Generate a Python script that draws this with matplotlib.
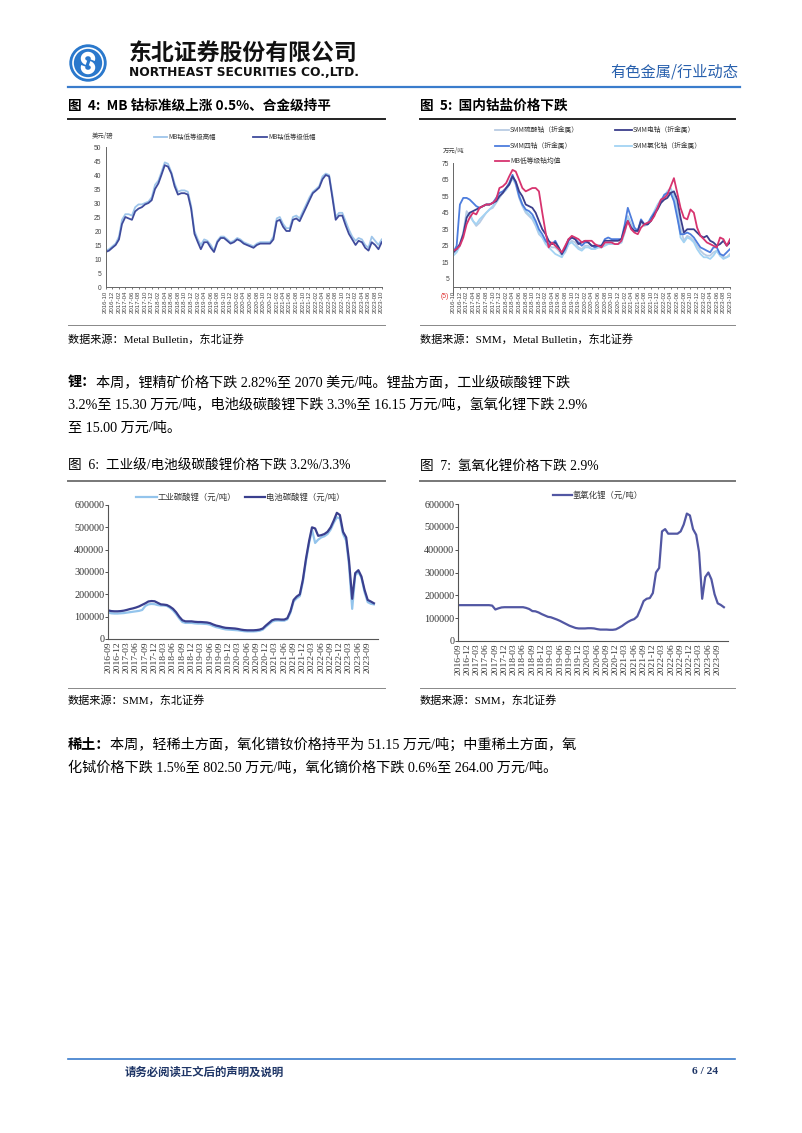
import numpy as np
import pandas as pd
import matplotlib
matplotlib.use("Agg")
import matplotlib.pyplot as plt
import matplotlib.dates as mdates
from matplotlib.lines import Line2D
from matplotlib.patches import Circle, Arc

W, H = 802, 1133
CJK = ["Noto Sans CJK SC", "DejaVu Sans"]
SERIF = ["Liberation Serif", "Noto Sans CJK SC"]
SANS = ["Liberation Sans", "Noto Sans CJK SC"]
plt.rcParams["font.family"] = CJK

# ---------------- data ----------------
# fig 4: MB cobalt low grade, USD/lb, monthly 2016-10 .. 2023-10
co_months = pd.date_range("2016-10-01", periods=85, freq="MS")
mb_high = [13, 13.5, 14.5, 15.5, 18, 24, 26, 26, 25.5, 28.5, 29.5, 29.5, 30, 30.5, 32,
           36.5, 38, 41, 44.5, 44, 41, 37, 34, 34.5, 34.5, 34, 29, 20, 17, 15, 17,
           16.5, 15, 13, 16.5, 18, 18, 17, 16, 16.5, 17.5, 17, 16, 15.5, 15, 14.5,
           15.5, 16, 16, 16, 16, 18, 24.5, 25, 22.5, 21, 21, 25, 25.5, 24.5, 27, 29.5,
           32, 34, 35, 36, 39.5, 40.5, 40, 33, 25, 26.5, 26.5, 23.5, 20.5, 18, 16.5,
           17.5, 17, 15, 14, 18, 16.5, 15, 17]
mb_low = [12.5, 13, 14, 15, 17, 22.5, 25, 24.5, 24, 27, 28, 28.5, 29.5, 30, 31,
          35, 37, 40, 43.5, 43, 40.5, 36, 33, 33.5, 33.5, 33, 28, 19, 16, 13.5, 16,
          16, 14, 12.5, 16, 17.5, 17.5, 16.5, 15.5, 16, 17, 16.5, 15.5, 15, 14.5, 14,
          15, 15.5, 15.5, 15.5, 15.5, 17, 23.5, 24, 21.5, 20, 20, 24, 24.5, 23.5, 26,
          28.5, 31, 33.5, 34.5, 35.5, 38.5, 40, 39.5, 32, 24, 25.5, 25.5, 22, 19, 17,
          15, 16.5, 16, 14, 13, 16, 15, 13.5, 16]

# fig 5: domestic cobalt salts, 10k CNY/t, monthly 2016-10 .. 2023-10
co_sulfate = [20, 22, 26, 33, 46, 43, 40, 37, 39, 42, 45, 47, 48, 51, 54, 57, 59, 62,
              66, 62, 54, 49, 45, 43, 41, 37, 32, 30, 27, 25, 24, 24, 22, 19, 21, 26,
              28, 27, 24, 23, 25, 25, 23, 23, 24, 24, 26, 26, 26, 26, 26, 27, 34, 43,
              38, 35, 34, 39, 37, 38, 41, 44, 48, 51, 54, 55, 58, 56, 48, 36, 28, 31,
              30, 28, 25, 22, 20, 19, 19, 21, 22, 19, 18, 18, 20]
co_metal = [21, 23, 26, 32, 42, 45, 46, 47, 48, 49, 50, 50, 51, 52, 55, 57, 60, 62,
            67, 64, 58, 55, 50, 49, 48, 45, 40, 35, 32, 28, 26, 27, 24, 20, 24, 29,
            30, 29, 26, 27, 28, 27, 25, 25, 25, 25, 28, 28, 28, 28, 28, 29, 36, 40,
            36, 34, 34, 40, 38, 38, 40, 44, 47, 51, 53, 54, 57, 58, 53, 42, 33, 35,
            35, 35, 33, 31, 30, 31, 28, 27, 25, 26, 28, 25, 27]
co_oxide = [21, 25, 50, 54, 54, 53, 51, 49, 48, 49, 50, 50, 51, 54, 57, 58, 60, 63,
            68, 63, 55, 50, 47, 46, 44, 40, 35, 32, 28, 26, 26, 28, 24, 20, 23, 28,
            30, 29, 27, 25, 27, 27, 25, 24, 25, 25, 29, 30, 29, 29, 29, 29, 38, 48,
            42, 36, 34, 41, 38, 38, 42, 45, 48, 52, 56, 57, 57, 52, 42, 32, 32, 33,
            32, 30, 27, 24, 23, 22, 21, 24, 24, 20, 19, 21, 23]
co_chloride = [19, 21, 25, 32, 43, 45, 40, 38, 41, 43, 45, 47, 49, 52, 55, 57, 59, 62,
               66, 63, 56, 50, 46, 44, 42, 38, 33, 30, 26, 24, 22, 20, 19, 18, 22, 26,
               27, 25, 23, 22, 24, 24, 23, 23, 24, 24, 25, 26, 26, 26, 26, 27, 33, 42,
               37, 34, 34, 40, 38, 39, 42, 46, 50, 53, 55, 58, 60, 55, 45, 30, 27, 30,
               29, 27, 23, 20, 18, 18, 17, 19, 22, 19, 17, 18, 19]
mb_mean = [22, 23, 25, 30, 38, 42, 45, 44, 48, 49, 50, 50, 51, 53, 60, 61, 63, 67,
           71, 70, 65, 60, 58, 59, 60, 60, 58, 45, 33, 24, 27, 25, 23, 21, 25, 29,
           31, 30, 29, 27, 28, 28, 28, 26, 25, 24, 27, 27, 27, 26, 26, 28, 34, 40,
           35, 33, 32, 36, 38, 39, 40, 43, 48, 53, 54, 56, 61, 66, 57, 48, 42, 41,
           47, 45, 36, 31, 29, 27, 26, 25, 24, 30, 29, 25, 29]

# fig 6/7: lithium salts, CNY/t, monthly 2016-09 .. 2023-11
li_months = pd.date_range("2016-09-01", periods=87, freq="MS")
li2co3_ind = [118000, 115000, 114000, 114000, 115000, 116000, 118000, 120000, 122000,
              124000, 126000, 130000, 148000, 155000, 157000, 156000, 152000, 150000,
              150000, 148000, 140000, 128000, 112000, 92000, 76000, 72000, 72000,
              72000, 70000, 69000, 69000, 68000, 67000, 64000, 58000, 53000, 50000,
              46000, 43000, 42000, 41000, 40000, 39000, 37000, 35000, 34000, 34000,
              34000, 35000, 37000, 42000, 55000, 66000, 78000, 82000, 83000, 82000,
              82000, 88000, 118000, 168000, 182000, 192000, 255000, 350000, 430000,
              490000, 430000, 445000, 455000, 460000, 470000, 490000, 520000, 545000,
              540000, 470000, 440000, 330000, 135000, 285000, 300000, 275000, 210000,
              165000, 158000, 155000]
li2co3_bat = [128000, 125000, 124000, 124000, 125000, 127000, 130000, 134000, 137000,
              141000, 146000, 153000, 160000, 168000, 170000, 169000, 162000, 155000,
              154000, 152000, 145000, 135000, 120000, 100000, 84000, 79000, 79000,
              79000, 77000, 76000, 76000, 75000, 74000, 71000, 65000, 60000, 57000,
              53000, 50000, 49000, 48000, 47000, 45000, 42000, 40000, 39000, 39000,
              39000, 40000, 42000, 47000, 60000, 72000, 84000, 88000, 88000, 87000,
              87000, 93000, 125000, 175000, 190000, 200000, 265000, 360000, 440000,
              500000, 495000, 462000, 465000, 470000, 480000, 500000, 530000, 565000,
              555000, 480000, 455000, 350000, 180000, 295000, 308000, 280000, 220000,
              175000, 168000, 160000]
lioh = [157000, 157000, 157000, 157000, 157000, 157000, 157000, 157000, 157000,
        157000, 157000, 155000, 138000, 143000, 147000, 148000, 148000, 148000,
        148000, 148000, 148000, 148000, 145000, 140000, 131000, 130000, 125000,
        118000, 112000, 106000, 104000, 99000, 94000, 88000, 81000, 74000, 67000,
        62000, 57000, 55000, 55000, 55000, 56000, 56000, 55000, 52000, 50000, 50000,
        50000, 49000, 49000, 51000, 58000, 66000, 75000, 84000, 91000, 96000, 108000,
        140000, 175000, 185000, 188000, 210000, 300000, 320000, 480000, 490000,
        470000, 470000, 470000, 470000, 480000, 510000, 558000, 550000, 490000,
        465000, 390000, 185000, 280000, 300000, 270000, 205000, 165000, 158000, 148000]

# ---------------- helpers ----------------
fig = plt.figure(figsize=(W / 100, H / 100), dpi=100)
fig.patch.set_facecolor("white")


def X(x):
    return x / W


def Y(y):
    return 1 - y / H


def rect(x0, x1, ytop, ybot):
    return [X(x0), Y(ybot), (x1 - x0) / W, (ybot - ytop) / H]


def txt(x, y, s, size, **kw):
    kw.setdefault("va", "center")
    return fig.text(X(x), Y(y), s, fontsize=size, **kw)


def hline(x0, x1, y, color, lw):
    fig.add_artist(Line2D([X(x0), X(x1)], [Y(y), Y(y)], color=color, lw=lw))


def leg_item(x0, x1, y, color, label, lw, size):
    fig.add_artist(Line2D([X(x0), X(x1)], [Y(y), Y(y)], color=color, lw=lw))
    txt(x1 + 1, y, label, size, color="#333333")


# ---------------- header ----------------
lg = fig.add_axes(rect(68, 108, 43, 83))
lg.set_xlim(-20, 20); lg.set_ylim(-20, 20); lg.set_aspect("equal"); lg.axis("off")
lg.add_patch(Circle((0, 0), 18, color="#2a78cc"))
lg.add_patch(Circle((0, 0), 15, fill=False, ec="white", lw=1.2))
lg.add_patch(Arc((0, 4.5), 10, 9, theta1=-20, theta2=250, color="white", lw=3.2))
lg.add_patch(Arc((0, -4.5), 10, 9, theta1=160, theta2=430, color="white", lw=3.2))

txt(129, 53, "东北证券股份有限公司", 16.5, weight="bold", color="#111111")
txt(129, 72, "NORTHEAST SECURITIES CO.,LTD.", 8.8, weight="bold",
    family=["DejaVu Sans"], color="#111111")
txt(738, 72, "有色金属/行业动态", 11, ha="right", color="#2860ad")
hline(68, 740, 87, "#3a7ccc", 1.6)

# ---------------- titles / sources ----------------
txt(68, 106, "图  4:  MB 钴标准级上涨 0.5%、合金级持平", 9.8, weight="bold")
txt(420, 106, "图  5:  国内钴盐价格下跌", 9.8, weight="bold")
hline(68, 385, 119, "#222222", 1.4)
hline(420, 735, 119, "#222222", 1.4)
hline(68, 385, 325, "#888888", 0.7)
hline(420, 735, 325, "#888888", 0.7)
txt(68, 339, "数据来源：Metal Bulletin，东北证券", 8, family=SERIF)
txt(420, 339, "数据来源：SMM，Metal Bulletin，东北证券", 8, family=SERIF)

txt(68, 382, "锂：", 10.2, weight="bold")
txt(96, 382, "本周，锂精矿价格下跌 2.82%至 2070 美元/吨。锂盐方面，工业级碳酸锂下跌",
    10.2, family=SERIF)
txt(68, 405, "3.2%至 15.30 万元/吨，电池级碳酸锂下跌 3.3%至 16.15 万元/吨，氢氧化锂下跌 2.9%",
    10.2, family=SERIF)
txt(68, 428, "至 15.00 万元/吨。", 10.2, family=SERIF)

txt(68, 466, "图  6:  工业级/电池级碳酸锂价格下跌 3.2%/3.3%", 9.8, family=SERIF)
txt(420, 466, "图  7:  氢氧化锂价格下跌 2.9%", 9.8, family=SERIF)
hline(68, 385, 481, "#777777", 1.4)
hline(420, 735, 481, "#777777", 1.4)
hline(68, 385, 688, "#888888", 0.7)
hline(420, 735, 688, "#888888", 0.7)
txt(68, 700, "数据来源：SMM，东北证券", 8, family=SERIF)
txt(420, 700, "数据来源：SMM，东北证券", 8, family=SERIF)

txt(68, 745, "稀土：", 10.2, weight="bold")
txt(110, 745, "本周，轻稀土方面，氧化镨钕价格持平为 51.15 万元/吨；中重稀土方面，氧",
    10.2, family=SERIF)
txt(68, 768, "化铽价格下跌 1.5%至 802.50 万元/吨，氧化镝价格下跌 0.6%至 264.00 万元/吨。",
    10.2, family=SERIF)

hline(68, 735, 1059, "#3a7ccc", 1.2)
txt(125, 1072, "请务必阅读正文后的声明及说明", 8.2, weight="bold", color="#1e3566")
txt(718, 1072, "6 / 24", 8.2, ha="right", weight="bold", family=SERIF, color="#1e3566")


def style_small(ax, color="#444444"):
    for s in ("top", "right"):
        ax.spines[s].set_visible(False)
    for s in ("left", "bottom"):
        ax.spines[s].set_color("#666666")
        ax.spines[s].set_linewidth(0.7)
    ax.tick_params(axis="y", length=0, labelsize=4.8, colors=color, pad=3)
    ax.tick_params(axis="x", length=1.5, width=0.5, labelsize=4.4, colors=color,
                   rotation=90, pad=1)
    for lab in ax.get_xticklabels() + ax.get_yticklabels():
        lab.set_fontfamily(SANS)


# ---------------- fig 4 ----------------
ax4 = fig.add_axes(rect(105.7, 381.7, 147, 287))
ax4.plot(co_months, mb_high, color="#9ec5ea", lw=1.3)
ax4.plot(co_months, mb_low, color="#3f4b9c", lw=1.3)
ax4.set_ylim(0, 50)
ax4.set_yticks(np.arange(0, 51, 5))
ax4.set_xlim(co_months[0], co_months[-1])
ax4.set_xticks(co_months[::2])
ax4.set_xticklabels([d.strftime("%Y-%m") for d in co_months[::2]])
style_small(ax4)
txt(92, 136, "美元/磅", 4.6, color="#444444")
leg_item(154, 167, 137, "#9ec5ea", "MB钴低等级高幅", 1.3, 4.6)
leg_item(253, 267, 137, "#3f4b9c", "MB钴低等级低幅", 1.3, 4.6)

# ---------------- fig 5 ----------------
ax5 = fig.add_axes(rect(453.3, 730, 163.3, 295.2))
series5 = [(co_sulfate, "#b9cbe3", "SMM硫酸钴（折金属）"),
           (co_chloride, "#a3d3f3", "SMM氯化钴（折金属）"),
           (co_oxide, "#4d7ddd", "SMM四钴（折金属）"),
           (co_metal, "#3b3e8b", "SMM电钴（折金属）"),
           (mb_mean, "#d7346f", "MB低等级钴均值")]
for vals, c, _ in series5:
    ax5.plot(co_months, vals, color=c, lw=1.3)
ax5.set_ylim(-5, 75)
ax5.spines["bottom"].set_position(("data", 0))
yt5 = np.arange(-5, 76, 10)
ax5.set_yticks(yt5)
lbl5 = ax5.set_yticklabels([f"({-v})" if v < 0 else f"{v}" for v in yt5])
ax5.set_xlim(co_months[0], co_months[-1])
ax5.set_xticks(co_months[::2])
ax5.set_xticklabels([d.strftime("%Y-%m") for d in co_months[::2]])
style_small(ax5)
lbl5[0].set_color("#e03030")
txt(443, 151, "万元/吨", 4.6, color="#444444")
leg_item(495, 509, 129.5, "#b9cbe3", "SMM硫酸钴（折金属）", 1.3, 4.9)
leg_item(615, 632, 129.5, "#3b3e8b", "SMM电钴（折金属）", 1.3, 4.9)
leg_item(495, 509, 145.5, "#4d7ddd", "SMM四钴（折金属）", 1.3, 4.9)
leg_item(615, 632, 145.5, "#a3d3f3", "SMM氯化钴（折金属）", 1.3, 4.9)
leg_item(495, 509, 161, "#d7346f", "MB低等级钴均值", 1.3, 4.9)


# ---------------- fig 6 / 7 ----------------
def style_li(ax):
    for s in ("top", "right"):
        ax.spines[s].set_visible(False)
    for s in ("left", "bottom"):
        ax.spines[s].set_color("#555555")
        ax.spines[s].set_linewidth(0.8)
    ax.set_ylim(0, 600000)
    ax.set_yticks(np.arange(0, 600001, 100000))
    ax.set_yticklabels([f"{v}" for v in np.arange(0, 600001, 100000)])
    q = li_months[::3][:29]
    ax.set_xticks(q)
    ax.set_xticklabels([d.strftime("%Y-%m") for d in q])
    x0 = mdates.date2num(li_months[0])
    ax.set_xlim(x0, x0 + 87.3 * 30.44)
    ax.tick_params(axis="y", length=2, width=0.6, labelsize=7.3, colors="#333333", pad=1)
    ax.tick_params(axis="x", length=0, labelsize=6.8, colors="#333333",
                   rotation=90, pad=2)
    for lab in ax.get_xticklabels() + ax.get_yticklabels():
        lab.set_fontfamily(SERIF)


ax6 = fig.add_axes(rect(108.3, 378, 505, 639))
ax6.plot(li_months, li2co3_ind, color="#93c4ec", lw=1.6)
ax6.plot(li_months, li2co3_bat, color="#3a3f8e", lw=1.6)
style_li(ax6)
leg_item(136, 157, 497, "#93c4ec", "工业碳酸锂（元/吨）", 1.6, 6)
leg_item(245, 265, 497, "#3a3f8e", "电池碳酸锂（元/吨）", 1.6, 6)

ax7 = fig.add_axes(rect(458.3, 728, 504, 641))
ax7.plot(li_months, lioh, color="#5257a3", lw=1.6)
style_li(ax7)
leg_item(553, 572, 495, "#5257a3", "氢氧化锂（元/吨）", 1.6, 6)

fig.savefig("out.png", dpi=100, facecolor="white")
